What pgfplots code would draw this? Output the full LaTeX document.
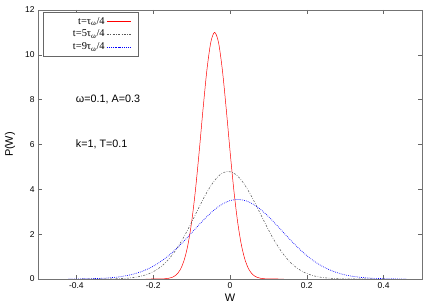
\documentclass[border=0pt]{standalone}
\usepackage{fontspec}
\setmainfont{Liberation Sans}
\newfontfamily\serif{Liberation Serif}
\usepackage{pgfplots}
\pgfplotsset{compat=1.18}
\begin{document}
\begin{tikzpicture}
\begin{axis}[
  scale only axis, width=384bp, height=269bp,
  xmin=-0.5, xmax=0.5, ymin=0, ymax=12,
  xtick={-0.4,-0.2,0,0.2,0.4}, ytick={0,2,4,6,8,10,12},
  tick align=inside, tick pos=both, major tick length=4bp,
  /pgf/number format/assume math mode=true,
  xticklabel style={/pgf/number format/fixed, /pgf/number format/precision=1},
  ticklabel style={font=\fontsize{8.5}{9}\selectfont},
  axis line style={black!55, line width=0.9pt},
  tick style={black!60, line width=0.5pt},
  xlabel={W}, ylabel={P(W)},
  label style={font=\fontsize{11}{12}\selectfont},
  xlabel style={at={(axis description cs:0.5,0)}, anchor=center, yshift=-19bp},
  ylabel style={at={(axis description cs:-0.073,0.5)}, anchor=center},
  legend plot pos=right, legend cell align=right,
  legend style={at={(0,1)}, anchor=north west, xshift=5bp, yshift=-2bp,
    font=\serif\fontsize{10.5}{11}\selectfont,
    row sep=0.5bp, inner xsep=7bp, inner ysep=3bp},
  every axis legend/.append style={draw=black!60},
  legend image post style={xscale=1.4},
]
\addplot[color=red, line width=0.5pt, smooth] coordinates {
(-0.22,0) (-0.20,0.0003) (-0.18,0.0037) (-0.17,0.011) (-0.16,0.031) (-0.15,0.079)
(-0.14,0.186) (-0.13,0.403) (-0.12,0.807) (-0.11,1.489) (-0.10,2.531)
(-0.09,3.964) (-0.08,5.725) (-0.07,7.619) (-0.06,9.342) (-0.05,10.56)
(-0.04,11.0) (-0.03,10.56) (-0.02,9.342) (-0.01,7.619) (0.00,5.725)
(0.01,3.964) (0.02,2.531) (0.03,1.489) (0.04,0.807) (0.05,0.403)
(0.06,0.186) (0.07,0.079) (0.08,0.031) (0.09,0.011) (0.10,0.0037)
(0.12,0.0003) (0.14,0)
};
\addlegendentry{\hspace*{26bp}t=τ\textsubscript{ω}/4}
\addplot[color=black!65, line width=0.55pt, dash pattern=on 2pt off 1.5pt on 0.6pt off 1.5pt, smooth] coordinates {
(-0.385,0) (-0.345,0.0013) (-0.305,0.008) (-0.285,0.019) (-0.265,0.040)
(-0.245,0.081) (-0.225,0.156) (-0.205,0.282) (-0.185,0.483) (-0.165,0.782)
(-0.145,1.197) (-0.125,1.730) (-0.105,2.363) (-0.085,3.050) (-0.065,3.719)
(-0.045,4.285) (-0.025,4.666) (-0.005,4.8) (0.015,4.666) (0.035,4.285)
(0.055,3.719) (0.075,3.050) (0.095,2.363) (0.115,1.730) (0.135,1.197)
(0.155,0.782) (0.175,0.483) (0.195,0.282) (0.215,0.156) (0.235,0.081)
(0.255,0.040) (0.275,0.019) (0.295,0.008) (0.335,0.0013) (0.375,0)
};
\addlegendentry{t=5τ\textsubscript{ω}/4}
\addplot[color=blue, line width=0.7pt, dash pattern=on 0.7pt off 1.2pt, smooth] coordinates {
(-0.42,0.002) (-0.38,0.0084) (-0.34,0.026) (-0.32,0.045) (-0.30,0.074)
(-0.28,0.118) (-0.26,0.183) (-0.24,0.276) (-0.22,0.402) (-0.20,0.569)
(-0.18,0.782) (-0.16,1.043) (-0.14,1.349) (-0.12,1.692) (-0.10,2.060)
(-0.08,2.432) (-0.06,2.787) (-0.04,3.098) (-0.02,3.342) (0.00,3.497)
(0.02,3.55) (0.04,3.497) (0.06,3.342) (0.08,3.098) (0.10,2.787)
(0.12,2.432) (0.14,2.060) (0.16,1.692) (0.18,1.349) (0.20,1.043)
(0.22,0.782) (0.24,0.569) (0.26,0.402) (0.28,0.276) (0.30,0.183)
(0.32,0.118) (0.34,0.074) (0.36,0.045) (0.38,0.026) (0.42,0.0084) (0.46,0.002)
};
\addlegendentry{t=9τ\textsubscript{ω}/4}
\draw[black, line width=0.9pt] (axis cs:-0.5,0) -- (axis cs:0.5,0);
\node[anchor=west, inner sep=0pt, font=\fontsize{10.8}{12}\selectfont] at (axis cs:-0.4016,8) {ω=0.1, A=0.3};
\node[anchor=west, inner sep=0pt, font=\fontsize{10.8}{12}\selectfont] at (axis cs:-0.4016,6) {k=1, T=0.1};
\end{axis}
\path ([shift={(-38bp,-26bp)}]current axis.south west) rectangle ([shift={(14bp,10bp)}]current axis.north east);
\end{tikzpicture}
\end{document}
